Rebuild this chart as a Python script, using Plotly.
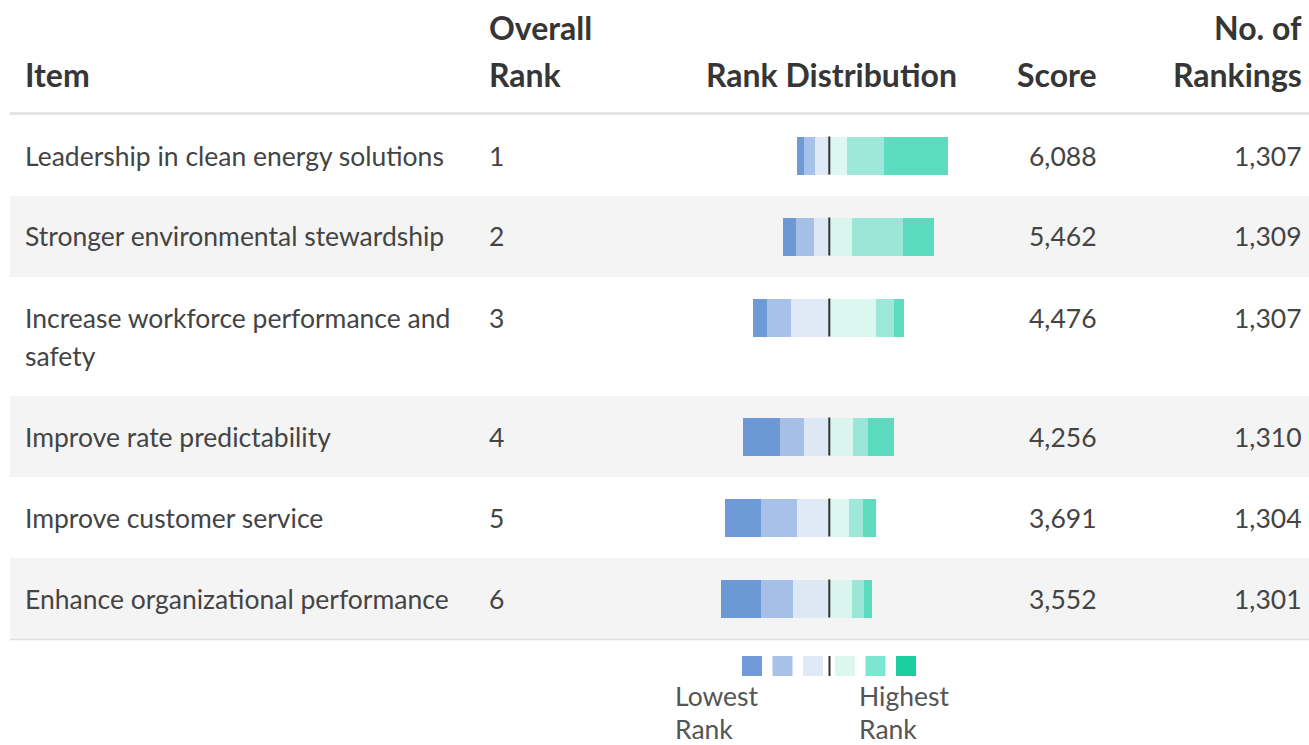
import plotly.graph_objects as go

# ---------------- data ----------------
items = [
    "Leadership in clean energy solutions",
    "Stronger environmental stewardship",
    "Increase workforce performance and<br>safety",
    "Improve rate predictability",
    "Improve customer service",
    "Enhance organizational performance",
]
overall_rank = [1, 2, 3, 4, 5, 6]
scores = [6088, 5462, 4476, 4256, 3691, 3552]
num_rankings = [1307, 1309, 1307, 1310, 1304, 1301]

# share of respondents (%) giving each rank, lowest rank -> highest rank
rank1 = [5.0, 8.1, 9.2, 24.3, 24.0, 26.6]
rank2 = [7.0, 12.1, 16.0, 16.1, 24.0, 21.4]
rank3 = [9.5, 10.2, 25.3, 16.6, 21.3, 23.8]
rank4 = [11.7, 14.7, 31.2, 15.7, 12.7, 15.0]
rank5 = [24.3, 34.1, 11.8, 10.1, 9.8, 8.0]
rank6 = [42.4, 20.8, 6.5, 17.2, 8.1, 5.1]

headers = ["Item", "Overall<br>Rank", "Rank Distribution", "Score", "No. of<br>Rankings"]
legend_labels = ["Lowest<br>Rank", "Highest<br>Rank"]

# ---------------- styling / layout ----------------
W, H = 1309, 745
FONT = "Lato"
bar_colors = ["rgba(74,129,206,0.8)", "rgba(146,178,226,0.8)", "rgba(216,227,244,0.8)",
              "rgba(211,244,236,0.8)", "rgba(132,226,206,0.8)", "rgba(52,211,176,0.8)"]
legend_colors = ["#6f9bd8", "#a8c1e8", "#dfe8f6", "#dcf6f0", "#7de6d0", "#1ccf9f"]

row_heights = [81, 81, 119, 81, 81, 81]
table_top = 115
row_tops = []
t = table_top
for h in row_heights:
    row_tops.append(t)
    t += h
line_y = 40.5  # centre of first text line inside a row
bar_centers = [rt + line_y for rt in row_tops]


def px(x):
    return x / W


def py(y):
    return 1 - y / H


fig = go.Figure()

dist = [rank1, rank2, rank3, rank4, rank5, rank6]
# diverging stacked bars: low ranks to the left (negative), high ranks to the right
order = [2, 1, 0, 3, 4, 5]
for k in order:
    sign = -1 if k < 3 else 1
    fig.add_trace(go.Bar(
        y=bar_centers,
        x=[sign * v for v in dist[k]],
        orientation="h",
        width=38,
        marker=dict(color=bar_colors[k], line=dict(width=0)),
        hoverinfo="skip",
        showlegend=False,
    ))

shapes = []
# zebra rows
for i, (rt, h) in enumerate(zip(row_tops, row_heights)):
    if i % 2 == 1:
        shapes.append(dict(type="rect", xref="paper", yref="paper",
                           x0=px(10), x1=1, y0=py(rt + h), y1=py(rt),
                           fillcolor="#f4f4f4", line=dict(width=0), layer="below"))
# header rule and bottom rule
shapes.append(dict(type="line", xref="paper", yref="paper", x0=px(10), x1=1,
                   y0=py(113.5), y1=py(113.5), line=dict(color="#e3e3e3", width=3)))
shapes.append(dict(type="line", xref="paper", yref="paper", x0=px(10), x1=1,
                   y0=py(639.5), y1=py(639.5), line=dict(color="#e0e0e0", width=1.5)))
# centre markers on each bar
for c in bar_centers:
    shapes.append(dict(type="line", xref="x", yref="y", x0=0, x1=0,
                       y0=c - 19, y1=c + 19, line=dict(color="#333333", width=2)))

# legend swatches
sw_x = [742, 772.5, 803, 835, 865.5, 896]
for xx, col in zip(sw_x, legend_colors):
    shapes.append(dict(type="rect", xref="paper", yref="paper",
                       x0=px(xx), x1=px(xx + 20), y0=py(676), y1=py(656),
                       fillcolor=col, line=dict(width=0)))
shapes.append(dict(type="line", xref="paper", yref="paper", x0=px(829.5), x1=px(829.5),
                   y0=py(676), y1=py(656), line=dict(color="#333333", width=2)))

annotations = []


def add_text(text, x, y, anchor="left", size=26.5, bold=False, color="#444444",
             yanchor="middle"):
    if bold:
        text = "<b>" + text + "</b>"
    annotations.append(dict(text=text, x=px(x), y=py(y), xref="paper", yref="paper",
                            xanchor=anchor, yanchor=yanchor, showarrow=False,
                            align=anchor, borderpad=0, borderwidth=0,
                            font=dict(family=FONT, size=size, color=color)))


# header
hdr_color = "#363636"
hs = 32
add_text(headers[0], 25, 75, "left", hs, True, hdr_color)
h1 = headers[1].split("<br>")
add_text(h1[0], 489, 28, "left", hs, True, hdr_color)
add_text(h1[1], 489, 75, "left", hs, True, hdr_color)
add_text(headers[2], 957, 75, "right", hs, True, hdr_color)
add_text(headers[3], 1097, 75, "right", hs, True, hdr_color)
h4 = headers[4].split("<br>")
add_text(h4[0], 1302, 28, "right", hs, True, hdr_color)
add_text(h4[1], 1302, 75, "right", hs, True, hdr_color)

# rows
for i in range(len(items)):
    cy = bar_centers[i]
    lines = items[i].split("<br>")
    for j, ln in enumerate(lines):
        add_text(ln, 25, cy + j * 38, "left")
    add_text(str(overall_rank[i]), 489, cy, "left")
    add_text(f"{scores[i]:,}", 1097, cy, "right")
    add_text(f"{num_rankings[i]:,}", 1302, cy, "right")

# legend labels
lo = legend_labels[0].split("<br>")
hi = legend_labels[1].split("<br>")
add_text(lo[0], 675, 696, "left", 26.5, False, "#555555")
add_text(hi[0], 859, 696, "left", 26.5, False, "#555555")
add_text(lo[1], 675, 745, "left", 26.5, False, "#555555", "bottom")
add_text(hi[1], 859, 745, "left", 26.5, False, "#555555", "bottom")

xr = 85
fig.update_layout(
    width=W, height=H,
    margin=dict(l=0, r=0, t=0, b=0),
    paper_bgcolor="white", plot_bgcolor="rgba(0,0,0,0)",
    barmode="relative", bargap=0,
    xaxis=dict(range=[-xr, xr], domain=[px(829.3 - xr * 1.51), px(829.3 + xr * 1.51)],
               visible=False, fixedrange=True),
    yaxis=dict(range=[H, 0], domain=[0, 1], visible=False, fixedrange=True),
    shapes=shapes,
    annotations=annotations,
    showlegend=False,
)

fig.write_html("out.html", post_script="document.body.style.margin='0';",
               config={"displayModeBar": False})
